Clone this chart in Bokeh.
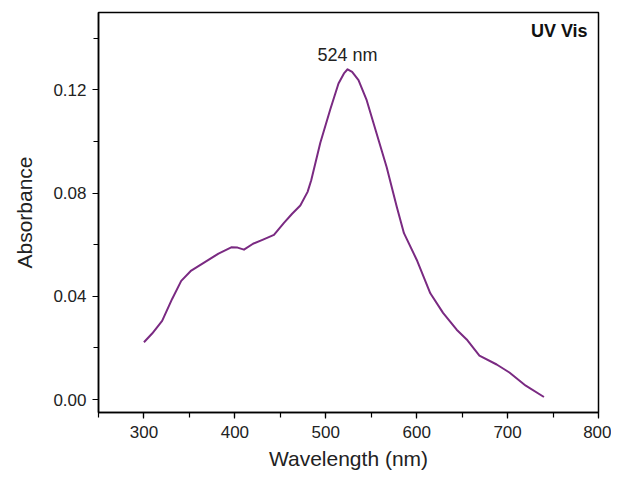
from bokeh.plotting import figure
from bokeh.models import SingleIntervalTicker, PrintfTickFormatter, Label, Range1d
from bokeh.embed import file_html
from bokeh.resources import INLINE

wavelength = [300, 309, 320, 331, 341, 352, 367, 382, 396, 403, 410, 420, 431, 443,
              454, 463, 472, 480, 484, 494, 505, 514, 520, 524, 529, 536, 545, 556,
              567, 578, 586, 600, 615, 629, 644, 655, 669, 688, 702, 720, 740]
absorbance = [0.0222, 0.0256, 0.0305, 0.0390, 0.0460, 0.0500, 0.0533, 0.0566, 0.0590,
              0.0589, 0.0581, 0.0604, 0.0620, 0.0638, 0.0685, 0.0720, 0.0752, 0.0805,
              0.0850, 0.0995, 0.1125, 0.1225, 0.1264, 0.1280, 0.1270, 0.1238, 0.1160,
              0.1030, 0.0900, 0.0748, 0.0645, 0.0542, 0.0412, 0.0336, 0.0271, 0.0233,
              0.0170, 0.0136, 0.0105, 0.0054, 0.0010]
peak_wavelength = 524
peak_label = "524 nm"
title_text = "UV Vis"

FONT = "Liberation Sans"

p = figure(width=611, height=472, output_backend="svg", toolbar_location=None,
           x_range=Range1d(250, 800), y_range=Range1d(-0.005, 0.15),
           min_border_left=98, min_border_right=13, min_border_top=12, min_border_bottom=58)

p.line(wavelength, absorbance, line_color="#7a2a82", line_width=2, line_join="round")

p.xgrid.visible = False
p.ygrid.visible = False
p.outline_line_color = "black"
p.outline_line_width = 1.5
p.outline_line_alpha = 1

p.xaxis.ticker = SingleIntervalTicker(interval=100, num_minor_ticks=2)
p.yaxis.ticker = SingleIntervalTicker(interval=0.04, num_minor_ticks=2)
p.yaxis.formatter = PrintfTickFormatter(format="%.2f")
p.xaxis.axis_label = "Wavelength (nm)"
p.yaxis.axis_label = "Absorbance"

for ax in (p.xaxis[0], p.yaxis[0]):
    ax.axis_line_color = "black"
    ax.axis_line_width = 1.5
    ax.major_tick_line_color = "black"
    ax.minor_tick_line_color = "black"
    ax.major_tick_line_width = 1.2
    ax.minor_tick_line_width = 1.2
    ax.major_tick_out = 6
    ax.major_tick_in = 0
    ax.minor_tick_out = 5
    ax.minor_tick_in = 0
    ax.major_label_text_font = FONT
    ax.major_label_text_font_size = "17px"
    ax.major_label_text_color = "#222222"
    ax.axis_label_text_font = FONT
    ax.axis_label_text_font_size = "21px"
    ax.axis_label_text_font_style = "normal"
    ax.axis_label_text_color = "#222222"

p.xaxis.major_label_standoff = 7
p.xaxis.axis_label_standoff = 6
p.yaxis.major_label_standoff = 6
p.yaxis.axis_label_standoff = 14

p.add_layout(Label(x=peak_wavelength, y=0.1335, text=peak_label, text_align="center",
                   text_baseline="middle", text_font=FONT, text_font_size="18px",
                   text_color="#222222"))
p.add_layout(Label(x=788, y=0.1429, text=title_text, text_align="right",
                   text_baseline="middle", text_font=FONT, text_font_size="18px",
                   text_font_style="bold", text_color="#111111"))

open("out.html", "w").write(file_html(p, INLINE))
